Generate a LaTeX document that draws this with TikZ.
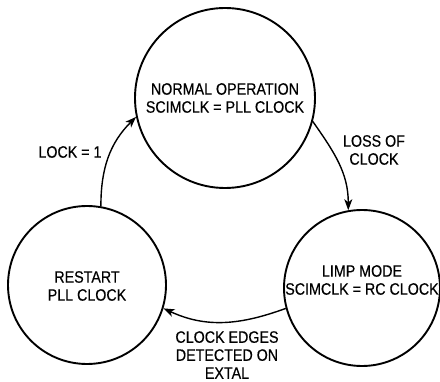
\documentclass[tikz,border=0pt]{standalone}
\usepackage{fontspec}
\setmainfont{Liberation Sans}[FakeStretch=0.865,FakeBold=0.4]
\usetikzlibrary{arrows.meta}

\begin{document}
\begin{tikzpicture}[x=1pt,y=1pt,
  state/.style={circle, draw, line width=1.9pt, inner sep=0pt},
  lbl/.style={align=center, font=\fontsize{16.5}{18}\selectfont, inner sep=0pt},
  trans/.style={line width=1.4pt, -{Stealth[length=11pt,width=8pt,inset=3pt]}},
]
\useasboundingbox (0,0) rectangle (440,381);

% the three clock states
\node[state, minimum size=180pt] (norm) at (225,283) {};
\node[state, minimum size=158pt] (rst)  at (87,96) {};
\node[state, minimum size=156pt] (limp) at (362,93) {};

\node[lbl] (normtxt) at (norm.center) {NORMAL OPERATION\\SCIMCLK = PLL CLOCK};
\node[lbl] (rsttxt)  at ([yshift=-1pt]rst.center) {RESTART\\PLL CLOCK};
\node[lbl] (limptxt) at ([yshift=8pt]limp.center) {LIMP MODE\\SCIMCLK = RC CLOCK};

% transitions
\draw[trans] (rst.80) to[out=90,in=225] (norm.192);
\draw[trans] (norm.-15) to[out=-55,in=90] (limp.100);
\draw[trans] (limp.195) to[out=200,in=-25] (rst.-17);

% transition conditions
\node[lbl] (lock) at (70,229) {LOCK = 1};
\node[lbl] (loss) at (374,231) {LOSS OF\\CLOCK};
\node[lbl] (edges) at (227,26) {CLOCK EDGES\\DETECTED ON\\EXTAL};
\end{tikzpicture}
\end{document}
